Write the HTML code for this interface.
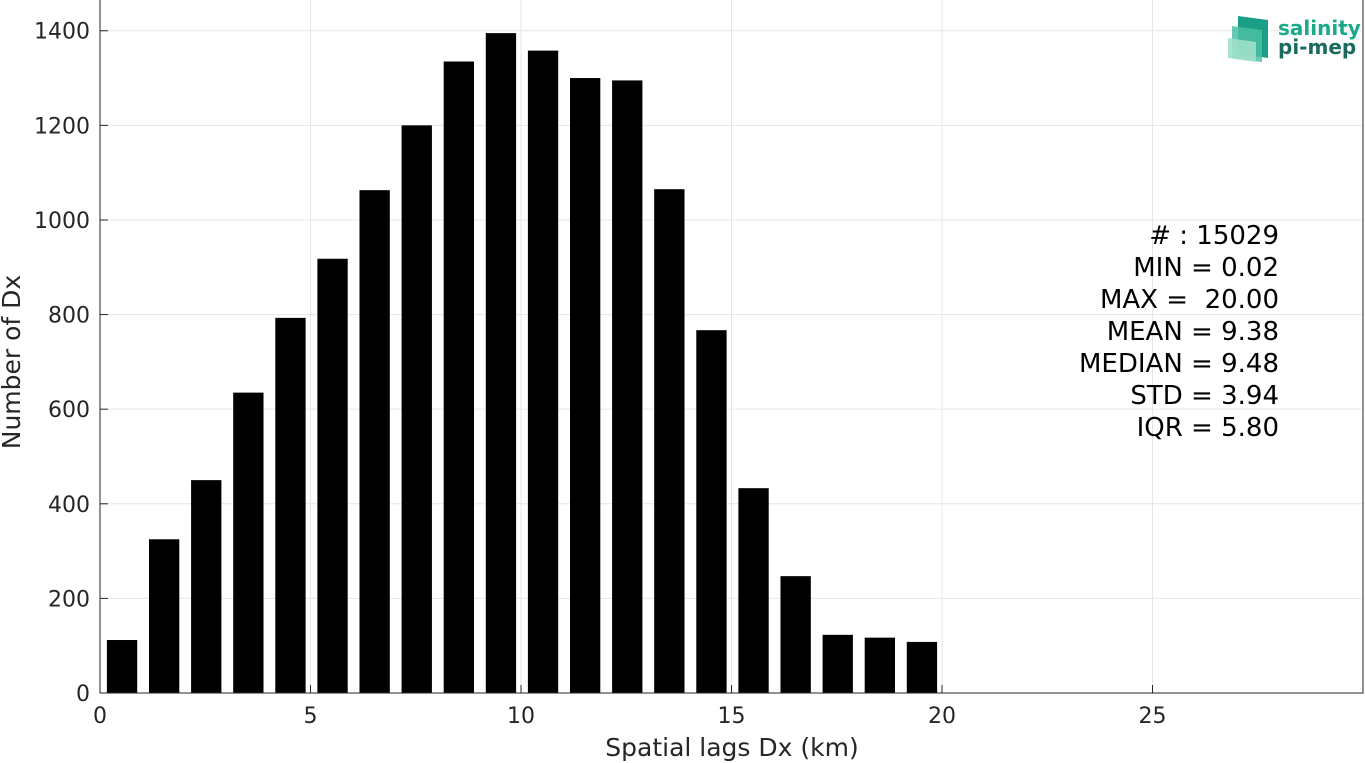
<!DOCTYPE html>
<html><head><meta charset="utf-8"><style>
html,body{margin:0;padding:0;background:#fff;}
svg{display:block;font-family:"DejaVu Sans","Liberation Sans",sans-serif;}
</style></head><body>
<svg id="chart" width="1365" height="763" viewBox="0 0 1365 763" xmlns="http://www.w3.org/2000/svg">
<g id="grid"></g>
<g id="bars"></g>
<g id="axes"></g>
<text x="732" y="756" font-size="25" fill="#262626" text-anchor="middle">Spatial lags Dx (km)</text>
<text transform="translate(20,362) rotate(-90)" font-size="25" fill="#262626" text-anchor="middle">Number of Dx</text>
<g font-size="26" fill="#000" text-anchor="end">
<text x="1279" y="244">#&#160;: 15029</text>
<text x="1279" y="276">MIN = 0.02</text>
<text x="1279" y="308">MAX = &#160;20.00</text>
<text x="1279" y="340">MEAN = 9.38</text>
<text x="1279" y="372">MEDIAN = 9.48</text>
<text x="1279" y="404">STD = 3.94</text>
<text x="1279" y="436">IQR = 5.80</text>
</g>
<g>
<polygon points="1238,16 1268,20 1268,58 1238,54" fill="#1a9e86"/>
<polygon points="1232,26 1262,30 1262,62 1232,58" fill="#4cbfa3" opacity="0.85"/>
<polygon points="1228,38 1256,42 1256,62 1228,58" fill="#9fe0c8" opacity="0.9"/>
<text x="1278" y="35" font-size="20" font-weight="bold" fill="#1aa98a">salinity</text>
<text x="1278" y="54" font-size="20" font-weight="bold" fill="#1a6b5e">pi-mep</text>
</g>
</svg>
<script>
const categories = [0.5,1.5,2.5,3.5,4.5,5.5,6.5,7.5,8.5,9.5,10.5,11.5,12.5,13.5,14.5,15.5,16.5,17.5,18.5,19.5];
const counts = [112,325,450,635,793,918,1063,1200,1335,1395,1358,1300,1295,1065,767,433,247,123,117,108];
const xTicks = [0,5,10,15,20,25];
const yTicks = [0,200,400,600,800,1000,1200,1400];
const L=100,R=1363,T=0,B=693,XMAX=30,YMAX=1465;
const xs=v=>L+v*(R-L)/XMAX, ys=v=>B-v*(B-T)/YMAX;
const NS="http://www.w3.org/2000/svg";
function mk(tag,attrs,parent){const e=document.createElementNS(NS,tag);for(const k in attrs)e.setAttribute(k,attrs[k]);parent.appendChild(e);return e;}
const grid=document.getElementById('grid'),bars=document.getElementById('bars'),axes=document.getElementById('axes');
xTicks.forEach(t=>{
 const l=mk('line',{x1:xs(t),x2:xs(t),y1:T,y2:B,stroke:'#e6e6e6','stroke-width':1},grid);
 
 
 const tk=mk('line',{x1:xs(t),x2:xs(t),y1:B,y2:B-8,stroke:'#262626'},axes);
 
 
 const tx=mk('text',{x:xs(t),y:B+30,'font-size':22,fill:'#262626','text-anchor':'middle'},axes);
 tx.textContent=t;
 
 
});
yTicks.forEach(t=>{
 const l=mk('line',{x1:L,x2:R,y1:ys(t),y2:ys(t),stroke:'#e6e6e6','stroke-width':1},grid);
 
 
 const tk=mk('line',{x1:L,x2:L+8,y1:ys(t),y2:ys(t),stroke:'#262626'},axes);
 
 
 const tx=mk('text',{x:L-10,y:ys(t)+8,'font-size':22,fill:'#262626','text-anchor':'end'},axes);
 tx.textContent=t;
 
 
});
const bw=0.72;
categories.forEach((c,i)=>{
 const x0=xs(c-bw/2)+1,x1=xs(c+bw/2)+1;
 const r=mk('rect',{x:x0,y:ys(counts[i]),width:x1-x0,height:B-ys(counts[i]),fill:'#000'},bars);
 
 
});
const frame=mk('path',{d:`M${L},${T} V${B} H${R} V${T}`,fill:'none',stroke:'#262626','stroke-width':1},axes);


</script>
</body></html>
